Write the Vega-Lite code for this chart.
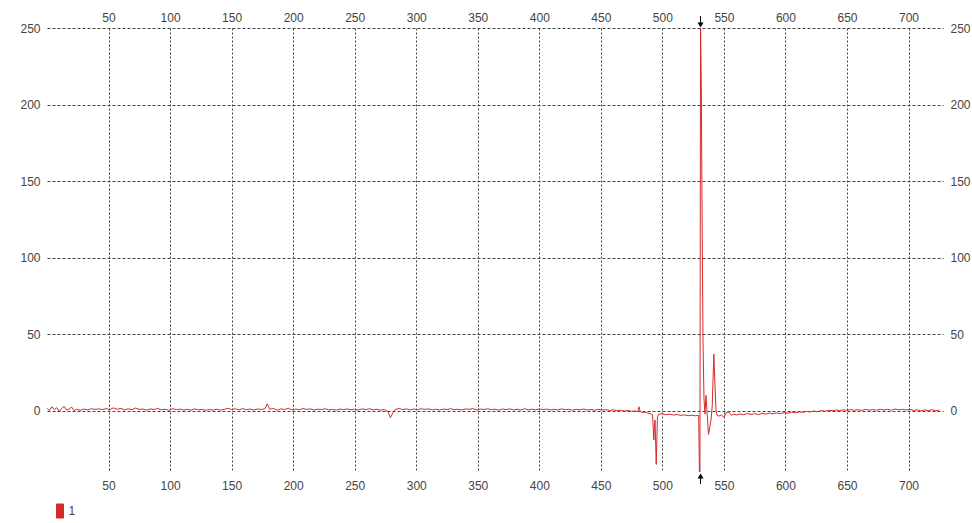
{
  "$schema": "https://vega.github.io/schema/vega-lite/v6.json",
  "width": 896,
  "height": 444,
  "autosize": {"type": "none"},
  "padding": {"left": 47, "top": 28, "right": 29, "bottom": 51},
  "background": "white",
  "config": {
    "view": {"stroke": null},
    "font": "Liberation Sans",
    "axis": {"labelFont": "Liberation Sans", "labelFontSize": 12, "labelColor": "#444444", "domain": false, "ticks": false, "title": null}
  },
  "datasets": {
    "signal": [
      {"x":0,"y":1.5},{"x":2,"y":0.2},{"x":4,"y":2.6},{"x":6,"y":0.8},{"x":8,"y":2.0},{"x":10,"y":-0.3},{"x":12,"y":1.6},{"x":14,"y":2.9},{"x":16,"y":0.4},{"x":18,"y":1.2},{"x":20,"y":2.4},{"x":22,"y":0.1},{"x":24,"y":1.0},{"x":27,"y":0.3},{"x":30,"y":1.1},{"x":33,"y":0.6},{"x":36,"y":1.3},{"x":39,"y":0.9},{"x":42,"y":1.2},{"x":45,"y":0.8},
      {"x":48,"y":1.4},{"x":51,"y":0.7},{"x":54,"y":1.9},{"x":57,"y":0.9},{"x":60,"y":1.6},{"x":63,"y":0.5},{"x":66,"y":1.3},{"x":69,"y":0.6},{"x":72,"y":1.8},{"x":75,"y":0.9},{"x":78,"y":1.1},{"x":81,"y":0.4},{"x":84,"y":1.2},{"x":87,"y":0.8},{"x":90,"y":1.5},{"x":93,"y":0.6},{"x":96,"y":1.0},{"x":99,"y":0.3},{"x":102,"y":1.4},{"x":105,"y":0.7},{"x":108,"y":1.1},{"x":111,"y":0.5},{"x":114,"y":0.9},{"x":117,"y":0.4},{"x":120,"y":1.2},{"x":123,"y":0.6},{"x":126,"y":0.9},{"x":129,"y":0.3},{"x":132,"y":0.8},{"x":135,"y":0.5},{"x":138,"y":1.0},{"x":141,"y":0.4},{"x":144,"y":0.9},{"x":147,"y":1.6},{"x":150,"y":0.8},{"x":153,"y":1.3},{"x":156,"y":0.6},{"x":159,"y":1.4},{"x":162,"y":0.7},{"x":165,"y":1.1},{"x":168,"y":0.5},{"x":171,"y":1.2},{"x":174,"y":0.8},{"x":177,"y":1.3},{"x":179,"y":4.5},{"x":181,"y":0.9},{"x":184,"y":1.5},{"x":187,"y":0.4},{"x":190,"y":1.2},{"x":193,"y":0.8},{"x":196,"y":1.6},{"x":199,"y":0.6},{"x":202,"y":1.1},{"x":205,"y":0.7},{"x":208,"y":1.4},{"x":211,"y":0.9},{"x":214,"y":1.2},{"x":217,"y":0.5},{"x":220,"y":1.0},{"x":223,"y":0.8},{"x":226,"y":1.3},{"x":229,"y":0.6},{"x":232,"y":0.9},{"x":235,"y":0.4},{"x":238,"y":1.1},{"x":241,"y":0.7},{"x":244,"y":1.2},{"x":247,"y":0.6},{"x":250,"y":1.0},{"x":253,"y":0.5},{"x":256,"y":1.2},{"x":259,"y":0.8},{"x":262,"y":1.3},{"x":265,"y":0.6},{"x":268,"y":1.0},{"x":271,"y":0.4},{"x":274,"y":0.8},{"x":277,"y":-0.5},{"x":279,"y":-4.5},{"x":281,"y":-1.5},{"x":283,"y":0.9},{"x":286,"y":1.4},{"x":289,"y":0.8},{"x":292,"y":1.2},{"x":295,"y":0.6},{"x":298,"y":1.1},{"x":301,"y":0.7},{"x":304,"y":1.3},{"x":307,"y":0.9},{"x":310,"y":1.2},{"x":313,"y":0.6},{"x":316,"y":1.0},{"x":319,"y":0.5},{"x":322,"y":1.1},{"x":325,"y":0.8},{"x":328,"y":1.3},{"x":331,"y":0.7},{"x":334,"y":1.0},{"x":337,"y":0.5},{"x":340,"y":1.2},{"x":343,"y":0.9},{"x":346,"y":1.4},{"x":349,"y":0.6},{"x":352,"y":1.1},{"x":355,"y":0.8},{"x":358,"y":1.3},{"x":361,"y":0.7},{"x":364,"y":1.0},{"x":367,"y":0.4},{"x":370,"y":1.1},{"x":373,"y":0.8},{"x":376,"y":1.2},{"x":379,"y":0.6},{"x":382,"y":1.0},{"x":385,"y":0.5},{"x":388,"y":1.3},{"x":391,"y":0.7},{"x":394,"y":1.0},{"x":397,"y":0.6},{"x":400,"y":1.2},{"x":403,"y":0.8},{"x":406,"y":1.1},{"x":409,"y":0.5},{"x":412,"y":0.9},{"x":415,"y":0.6},{"x":418,"y":1.2},{"x":421,"y":0.7},{"x":424,"y":1.0},{"x":427,"y":0.4},{"x":430,"y":0.9},{"x":433,"y":0.6},{"x":436,"y":1.1},{"x":439,"y":0.5},{"x":442,"y":0.8},{"x":445,"y":0.4},{"x":448,"y":0.9},{"x":451,"y":0.5},{"x":454,"y":0.7},{"x":457,"y":0.2},{"x":460,"y":0.6},{"x":463,"y":0.1},{"x":466,"y":0.4},{"x":469,"y":-0.2},{"x":472,"y":0.2},{"x":475,"y":-0.4},{"x":478,"y":-0.1},{"x":480,"y":-0.6},{"x":481,"y":2.6},{"x":482,"y":-0.5},{"x":484,"y":-1.2},{"x":486,"y":-0.8},{"x":488,"y":-1.5},{"x":490,"y":-1.8},{"x":492,"y":-2.5},{"x":493,"y":-19},{"x":494,"y":-6},{"x":495,"y":-35},{"x":496,"y":-4},{"x":497,"y":-2.2},{"x":500,"y":-2.0},{"x":503,"y":-2.6},{"x":506,"y":-2.3},{"x":509,"y":-2.8},{"x":512,"y":-2.5},{"x":515,"y":-3.0},{"x":518,"y":-2.7},{"x":521,"y":-3.2},{"x":524,"y":-2.9},{"x":527,"y":-3.3},{"x":529.5,"y":-3.0},{"x":530.1,"y":-40},{"x":530.5,"y":-40},{"x":531,"y":252},{"x":531.6,"y":214},{"x":532.3,"y":125},{"x":533,"y":45},{"x":533.8,"y":8},{"x":534.6,"y":-2},{"x":535.4,"y":10},{"x":536.2,"y":0},{"x":537.5,"y":-15.5},{"x":538.5,"y":-11},{"x":539.5,"y":-6},{"x":540.5,"y":3},{"x":541.8,"y":37},{"x":542.8,"y":15},{"x":543.6,"y":0},{"x":544.5,"y":-3},{"x":546,"y":-3.5},{"x":548,"y":-2.8},{"x":550,"y":-4.2},{"x":552,"y":-1.2},{"x":554,"y":-0.8},{"x":556,"y":-3},{"x":558,"y":-2.2},{"x":560,"y":-2.8},{"x":563,"y":-2.1},{"x":566,"y":-2.6},{"x":569,"y":-1.8},{"x":572,"y":-2.4},{"x":575,"y":-1.9},{"x":578,"y":-2.5},{"x":581,"y":-1.7},{"x":584,"y":-2.2},{"x":587,"y":-1.5},{"x":590,"y":-2.0},{"x":593,"y":-1.4},{"x":596,"y":-1.9},{"x":599,"y":-1.2},{"x":602,"y":-1.6},{"x":605,"y":-0.9},{"x":608,"y":-1.3},{"x":611,"y":-0.7},{"x":614,"y":-1.1},{"x":617,"y":-0.4},{"x":620,"y":-0.8},{"x":623,"y":-0.2},{"x":626,"y":-0.6},{"x":629,"y":0.1},{"x":632,"y":-0.3},{"x":635,"y":0.3},{"x":638,"y":0.0},{"x":641,"y":0.5},{"x":644,"y":0.1},{"x":647,"y":0.6},{"x":650,"y":0.2},{"x":653,"y":0.8},{"x":656,"y":0.3},{"x":659,"y":0.7},{"x":662,"y":0.2},{"x":665,"y":0.9},{"x":668,"y":0.4},{"x":671,"y":0.8},{"x":674,"y":0.3},{"x":677,"y":1.0},{"x":680,"y":0.5},{"x":683,"y":0.9},{"x":686,"y":0.4},{"x":689,"y":1.1},{"x":692,"y":0.6},{"x":695,"y":0.9},{"x":698,"y":0.5},{"x":701,"y":1.0},{"x":704,"y":0.2},{"x":707,"y":0.6},{"x":710,"y":-0.1},{"x":713,"y":0.5},{"x":716,"y":0.1},{"x":719,"y":0.7},{"x":722,"y":0.0},{"x":725,"y":0.4}
    ],
    "cursor": [{"x": 531}]
  },
  "layer": [
    {
      "data": {"name": "signal"},
      "mark": {"type": "line", "strokeWidth": 1, "clip": true},
      "encoding": {
        "x": {"field": "x", "type": "quantitative", "scale": {"domain": [0, 728], "nice": false, "zero": false},
              "axis": {"orient": "bottom", "values": [50,100,150,200,250,300,350,400,450,500,550,600,650,700], "grid": true, "gridDash": [2,2], "gridColor": "#444444", "gridOpacity": 1, "labelPadding": 8, "labelDx": 3}},
        "y": {"field": "y", "type": "quantitative", "scale": {"domain": [-40, 250], "nice": false, "zero": false},
              "axis": {"orient": "left", "values": [0,50,100,150,200,250], "grid": true, "gridDash": [3,2], "gridColor": "#444444", "gridOpacity": 1, "labelPadding": 7}},
        "color": {"datum": "1", "scale": {"range": ["#d42a2a"]},
                  "legend": {"orient": "none", "legendX": 5.5, "legendY": 475.5, "title": null, "padding": 0,
                             "symbolType": "M-0.5,-1H0.5V1H-0.5Z", "symbolSize": 196, "labelOffset": 1,
                             "labelFontSize": 12, "labelFont": "Liberation Sans", "labelColor": "#444444",
                             "symbolFillColor": "#d42a2a", "symbolStrokeColor": "#6b1010",
                             "encode": {"symbols": {"update": {"fill": {"value": "#d42a2a"}, "stroke": {"value": "#6b1010"}, "strokeWidth": {"value": 1}}}}}}
      }
    },
    {
      "data": {"name": "cursor"},
      "mark": {"type": "point", "shape": "triangle-down", "filled": true, "color": "black", "size": 36, "opacity": 1, "yOffset": -3},
      "encoding": {
        "x": {"field": "x", "type": "quantitative",
              "axis": {"orient": "top", "values": [50,100,150,200,250,300,350,400,450,500,550,600,650,700], "grid": false, "labelPadding": 4, "labelDx": 3}},
        "y": {"datum": 250, "type": "quantitative",
              "axis": {"orient": "right", "values": [0,50,100,150,200,250], "grid": false, "labelPadding": 7}}
      }
    },
    {
      "data": {"name": "cursor"},
      "mark": {"type": "rule", "color": "black", "strokeWidth": 1, "yOffset": -12, "y2Offset": -4},
      "encoding": {
        "x": {"field": "x", "type": "quantitative", "axis": null},
        "y": {"datum": 250, "type": "quantitative", "axis": null},
        "y2": {"datum": 250}
      }
    },
    {
      "data": {"name": "cursor"},
      "mark": {"type": "point", "shape": "triangle-up", "filled": true, "color": "black", "size": 36, "opacity": 1, "yOffset": 4},
      "encoding": {
        "x": {"field": "x", "type": "quantitative", "axis": null},
        "y": {"datum": -40, "type": "quantitative", "axis": null}
      }
    },
    {
      "data": {"name": "cursor"},
      "mark": {"type": "rule", "color": "black", "strokeWidth": 1, "yOffset": 5, "y2Offset": 12},
      "encoding": {
        "x": {"field": "x", "type": "quantitative", "axis": null},
        "y": {"datum": -40, "type": "quantitative", "axis": null},
        "y2": {"datum": -40}
      }
    }
  ],
  "resolve": {"axis": {"x": "independent", "y": "independent"}}
}
